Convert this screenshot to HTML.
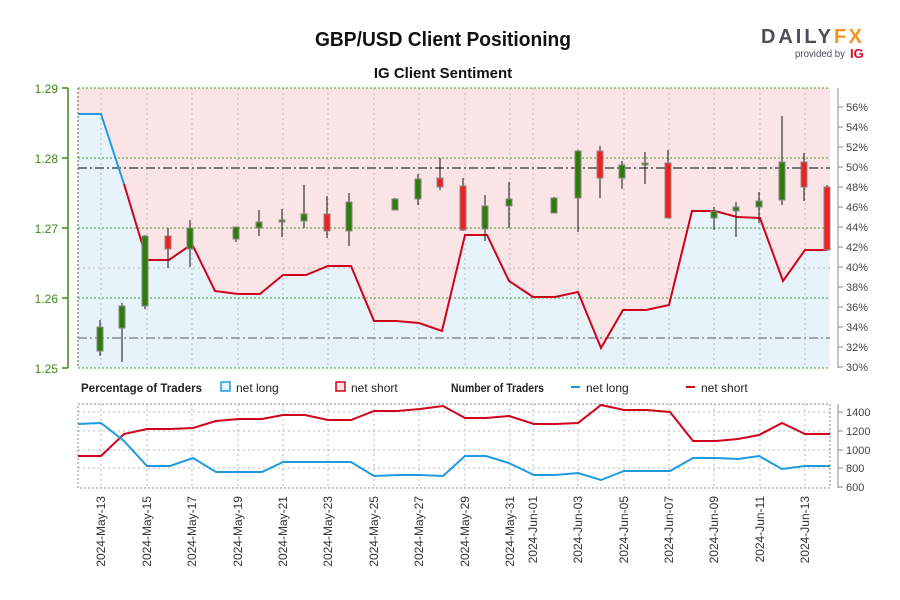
<!DOCTYPE html>
<html><head><meta charset="utf-8"><style>
html,body{margin:0;padding:0;background:#fff;}
svg{display:block;font-family:"Liberation Sans",sans-serif;}
</style></head><body>
<svg width="900" height="600" viewBox="0 0 900 600" xmlns="http://www.w3.org/2000/svg">
<text x="443" y="46" text-anchor="middle" font-size="20" font-weight="bold" fill="#111" textLength="256" lengthAdjust="spacingAndGlyphs">GBP/USD Client Positioning</text>
<text x="443" y="78" text-anchor="middle" font-size="15" font-weight="bold" fill="#111">IG Client Sentiment</text>
<text x="761" y="43" font-size="20" font-weight="bold" fill="#4a4f5a" textLength="70" lengthAdjust="spacing">DAILY</text>
<text x="834" y="43" font-size="20" font-weight="bold" fill="#f7931e" textLength="28" lengthAdjust="spacing">FX</text>
<text x="795" y="57" font-size="10" fill="#4a4f5a" textLength="50" lengthAdjust="spacingAndGlyphs">provided by</text>
<text x="850" y="58" font-size="13" font-weight="bold" fill="#e4002b">IG</text>

<!-- main panel fills -->
<rect x="78" y="88" width="752" height="280" fill="#fbe4e6"/>
<polygon fill="#e6f3fb" points="78,114 101,114 124,184 147,260 169,260 192,244 215,291 238,294 260,294 283,275 306,275 328,266 351,266 374,321 396,321 419,323 442,331 465,235 487,235 509,281 533,297 555,297 578,292 601,348 623,310 646,310 669,305 692,211 715,211 737,217 760,218 783,281 805,250 830,250 830,368 78,368"/>
<!-- grid -->
<g stroke="#b8b8b8" stroke-dasharray="2,3" stroke-width="1">
<line x1="101" y1="88" x2="101" y2="368"/><line x1="147" y1="88" x2="147" y2="368"/><line x1="192" y1="88" x2="192" y2="368"/><line x1="238" y1="88" x2="238" y2="368"/><line x1="283" y1="88" x2="283" y2="368"/><line x1="328" y1="88" x2="328" y2="368"/><line x1="374" y1="88" x2="374" y2="368"/><line x1="419" y1="88" x2="419" y2="368"/><line x1="465" y1="88" x2="465" y2="368"/><line x1="510" y1="88" x2="510" y2="368"/><line x1="533" y1="88" x2="533" y2="368"/><line x1="578" y1="88" x2="578" y2="368"/><line x1="624" y1="88" x2="624" y2="368"/><line x1="669" y1="88" x2="669" y2="368"/><line x1="714" y1="88" x2="714" y2="368"/><line x1="760" y1="88" x2="760" y2="368"/><line x1="805" y1="88" x2="805" y2="368"/>
<line x1="78" y1="268" x2="830" y2="268"/>
</g>
<g stroke="#4a9a2a" stroke-dasharray="2,2" stroke-width="1">
<line x1="78" y1="88" x2="830" y2="88"/><line x1="78" y1="158" x2="830" y2="158"/><line x1="78" y1="228" x2="830" y2="228"/><line x1="78" y1="298" x2="830" y2="298"/><line x1="78" y1="368" x2="830" y2="368"/>
<line x1="78" y1="88" x2="78" y2="368" stroke="#4b6b2a"/>
</g>
<line x1="78" y1="168" x2="830" y2="168" stroke="#777" stroke-width="2" stroke-dasharray="9,3,2,3"/>
<line x1="78" y1="338" x2="830" y2="338" stroke="#777" stroke-width="1.3" stroke-dasharray="9,3,2,3"/>
<!-- sentiment line -->
<polyline fill="none" stroke="#1e9be0" stroke-width="2" points="78,114 101,114 124,184"/>
<polyline fill="none" stroke="#d0021b" stroke-width="2" points="124,184 147,260 169,260 192,244 215,291 238,294 260,294 283,275 306,275 328,266 351,266 374,321 396,321 419,323 442,331 465,235 487,235 509,281 533,297 555,297 578,292 601,348 623,310 646,310 669,305 692,211 715,211 737,217 760,218 783,281 805,250 827,250"/>
<!-- candles -->
<g stroke="#111" stroke-width="1">
<line x1="100" y1="320" x2="100" y2="356"/><line x1="122" y1="303" x2="122" y2="362"/><line x1="145" y1="235" x2="145" y2="309"/><line x1="168" y1="228" x2="168" y2="268"/><line x1="190" y1="220" x2="190" y2="267"/><line x1="236" y1="227" x2="236" y2="242"/><line x1="259" y1="210" x2="259" y2="236"/><line x1="282" y1="209" x2="282" y2="237"/><line x1="304" y1="185" x2="304" y2="228"/><line x1="327" y1="196" x2="327" y2="238"/><line x1="349" y1="193" x2="349" y2="246"/><line x1="395" y1="198" x2="395" y2="210"/><line x1="418" y1="174" x2="418" y2="205"/><line x1="440" y1="158" x2="440" y2="190"/><line x1="463" y1="178" x2="463" y2="231"/><line x1="485" y1="195" x2="485" y2="241"/><line x1="509" y1="182" x2="509" y2="228"/><line x1="554" y1="197" x2="554" y2="213"/><line x1="578" y1="150" x2="578" y2="232"/><line x1="600" y1="146" x2="600" y2="198"/><line x1="622" y1="161" x2="622" y2="189"/><line x1="645" y1="152" x2="645" y2="184"/><line x1="668" y1="150" x2="668" y2="218"/><line x1="714" y1="207" x2="714" y2="230"/><line x1="736" y1="202" x2="736" y2="237"/><line x1="759" y1="192" x2="759" y2="223"/><line x1="782" y1="116" x2="782" y2="205"/><line x1="804" y1="153" x2="804" y2="201"/><line x1="827" y1="185" x2="827" y2="250"/>
</g>
<g stroke="#888" stroke-width="1">
<g fill="#2e7d0a">
<rect x="97" y="327" width="6" height="24"/><rect x="119" y="306" width="6" height="22"/><rect x="142" y="236" width="6" height="70"/><rect x="187" y="228" width="6" height="21"/><rect x="233" y="227" width="6" height="12"/><rect x="256" y="222" width="6" height="6"/><rect x="279" y="220" width="6" height="2"/><rect x="301" y="214" width="6" height="7"/><rect x="346" y="202" width="6" height="29"/><rect x="392" y="199" width="6" height="11"/><rect x="415" y="179" width="6" height="20"/><rect x="482" y="206" width="6" height="23"/><rect x="506" y="199" width="6" height="7"/><rect x="551" y="198" width="6" height="15"/><rect x="575" y="151" width="6" height="47"/><rect x="619" y="165" width="6" height="13"/><rect x="642" y="163" width="6" height="2"/><rect x="711" y="211" width="6" height="7"/><rect x="733" y="207" width="6" height="4"/><rect x="756" y="201" width="6" height="6"/><rect x="779" y="162" width="6" height="38"/>
</g>
<g fill="#f02020">
<rect x="165" y="236" width="6" height="13"/><rect x="324" y="214" width="6" height="17"/><rect x="437" y="178" width="6" height="9"/><rect x="460" y="186" width="6" height="44"/><rect x="597" y="151" width="6" height="27"/><rect x="665" y="163" width="6" height="55"/><rect x="801" y="162" width="6" height="25"/><rect x="824" y="187" width="6" height="63"/>
</g>
</g>
<!-- left axis -->
<line x1="68" y1="88" x2="68" y2="368" stroke="#3a8a1a" stroke-width="1.5"/>
<g stroke="#3a8a1a" stroke-width="1.5"><line x1="62" y1="88" x2="68" y2="88"/><line x1="62" y1="158" x2="68" y2="158"/><line x1="62" y1="228" x2="68" y2="228"/><line x1="62" y1="298" x2="68" y2="298"/><line x1="62" y1="368" x2="68" y2="368"/></g>
<g fill="#3a8a1a" font-size="12" text-anchor="end"><text x="58" y="93">1.29</text><text x="58" y="163">1.28</text><text x="58" y="233">1.27</text><text x="58" y="303">1.26</text><text x="58" y="373">1.25</text></g>
<!-- right axis -->
<line x1="838" y1="88" x2="838" y2="368" stroke="#888" stroke-width="1"/>
<g stroke="#888"><line x1="838" y1="107" x2="843" y2="107"/><line x1="838" y1="127" x2="843" y2="127"/><line x1="838" y1="147" x2="843" y2="147"/><line x1="838" y1="167" x2="843" y2="167"/><line x1="838" y1="187" x2="843" y2="187"/><line x1="838" y1="207" x2="843" y2="207"/><line x1="838" y1="227" x2="843" y2="227"/><line x1="838" y1="247" x2="843" y2="247"/><line x1="838" y1="267" x2="843" y2="267"/><line x1="838" y1="287" x2="843" y2="287"/><line x1="838" y1="307" x2="843" y2="307"/><line x1="838" y1="327" x2="843" y2="327"/><line x1="838" y1="347" x2="843" y2="347"/><line x1="838" y1="367" x2="843" y2="367"/></g>
<g fill="#444" font-size="11"><text x="846" y="111">56%</text><text x="846" y="131">54%</text><text x="846" y="151">52%</text><text x="846" y="171">50%</text><text x="846" y="191">48%</text><text x="846" y="211">46%</text><text x="846" y="231">44%</text><text x="846" y="251">42%</text><text x="846" y="271">40%</text><text x="846" y="291">38%</text><text x="846" y="311">36%</text><text x="846" y="331">34%</text><text x="846" y="351">32%</text><text x="846" y="371">30%</text></g>

<!-- legend -->
<g font-size="12" fill="#222">
<text x="81" y="392" font-weight="bold" textLength="121" lengthAdjust="spacingAndGlyphs">Percentage of Traders</text>
<rect x="221" y="382" width="9" height="9" fill="#e6f3fb" stroke="#1e9be0" stroke-width="1.5"/><text x="236" y="392">net long</text>
<rect x="336" y="382" width="9" height="9" fill="#fbe4e6" stroke="#d0021b" stroke-width="1.5"/><text x="351" y="392">net short</text>
<text x="451" y="392" font-weight="bold" textLength="93" lengthAdjust="spacingAndGlyphs">Number of Traders</text>
<line x1="571" y1="387" x2="580" y2="387" stroke="#1e9be0" stroke-width="2"/><text x="586" y="392">net long</text>
<line x1="686" y1="387" x2="695" y2="387" stroke="#d0021b" stroke-width="2"/><text x="701" y="392">net short</text>
</g>

<!-- lower panel -->
<g stroke="#b8b8b8" stroke-dasharray="2,3">
<line x1="101" y1="404" x2="101" y2="488"/><line x1="147" y1="404" x2="147" y2="488"/><line x1="192" y1="404" x2="192" y2="488"/><line x1="238" y1="404" x2="238" y2="488"/><line x1="283" y1="404" x2="283" y2="488"/><line x1="328" y1="404" x2="328" y2="488"/><line x1="374" y1="404" x2="374" y2="488"/><line x1="419" y1="404" x2="419" y2="488"/><line x1="465" y1="404" x2="465" y2="488"/><line x1="510" y1="404" x2="510" y2="488"/><line x1="533" y1="404" x2="533" y2="488"/><line x1="578" y1="404" x2="578" y2="488"/><line x1="624" y1="404" x2="624" y2="488"/><line x1="669" y1="404" x2="669" y2="488"/><line x1="714" y1="404" x2="714" y2="488"/><line x1="760" y1="404" x2="760" y2="488"/><line x1="805" y1="404" x2="805" y2="488"/>
<line x1="78" y1="412" x2="830" y2="412"/><line x1="78" y1="431" x2="830" y2="431"/><line x1="78" y1="450" x2="830" y2="450"/><line x1="78" y1="468" x2="830" y2="468"/>
</g>
<rect x="78" y="404" width="752" height="84" fill="none" stroke="#888" stroke-dasharray="2,2"/>
<polyline fill="none" stroke="#d0021b" stroke-width="2" points="78,456 101,456 124,434 147,429 170,429 193,428 216,421 239,419 262,419 283,415 305,415 328,420 351,420 374,411 397,411 420,409 443,406 465,418 486,418 509,416 534,424 555,424 578,423 601,405 624,410 647,410 670,412 693,441 716,441 738,439 759,435 782,423 805,434 830,434"/>
<polyline fill="none" stroke="#1e9be0" stroke-width="2" points="78,424 101,423 124,441 147,466 170,466 193,458 216,472 239,472 262,472 283,462 305,462 328,462 351,462 374,476 397,475 420,475 443,476 465,456 486,456 509,463 534,475 555,475 578,473 601,480 624,471 647,471 670,471 693,458 716,458 738,459 759,456 782,469 805,466 830,466"/>
<line x1="838" y1="404" x2="838" y2="488" stroke="#888"/>
<g stroke="#888"><line x1="838" y1="412" x2="843" y2="412"/><line x1="838" y1="431" x2="843" y2="431"/><line x1="838" y1="450" x2="843" y2="450"/><line x1="838" y1="468" x2="843" y2="468"/><line x1="838" y1="487" x2="843" y2="487"/></g>
<g fill="#444" font-size="11"><text x="846" y="416">1400</text><text x="846" y="435">1200</text><text x="846" y="454">1000</text><text x="846" y="472">800</text><text x="846" y="491">600</text></g>

<!-- date labels -->
<g fill="#333" font-size="12" text-anchor="end">
<text transform="translate(105,496) rotate(-90)">2024-May-13</text>
<text transform="translate(151,496) rotate(-90)">2024-May-15</text>
<text transform="translate(196,496) rotate(-90)">2024-May-17</text>
<text transform="translate(242,496) rotate(-90)">2024-May-19</text>
<text transform="translate(287,496) rotate(-90)">2024-May-21</text>
<text transform="translate(332,496) rotate(-90)">2024-May-23</text>
<text transform="translate(378,496) rotate(-90)">2024-May-25</text>
<text transform="translate(423,496) rotate(-90)">2024-May-27</text>
<text transform="translate(469,496) rotate(-90)">2024-May-29</text>
<text transform="translate(514,496) rotate(-90)">2024-May-31</text>
<text transform="translate(537,496) rotate(-90)">2024-Jun-01</text>
<text transform="translate(582,496) rotate(-90)">2024-Jun-03</text>
<text transform="translate(628,496) rotate(-90)">2024-Jun-05</text>
<text transform="translate(673,496) rotate(-90)">2024-Jun-07</text>
<text transform="translate(718,496) rotate(-90)">2024-Jun-09</text>
<text transform="translate(764,496) rotate(-90)">2024-Jun-11</text>
<text transform="translate(809,496) rotate(-90)">2024-Jun-13</text>
</g>
</svg>
</body></html>
